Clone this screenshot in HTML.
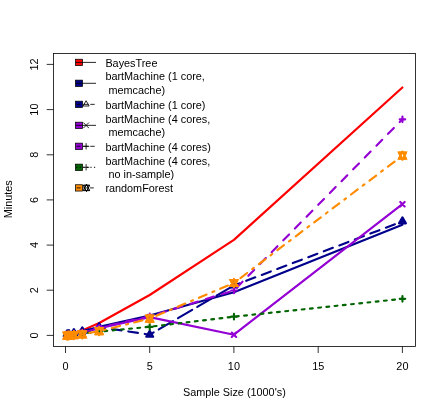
<!DOCTYPE html>
<html><head><meta charset="utf-8"><title>chart</title>
<style>
html,body{margin:0;padding:0;background:#fff;}
body{width:443px;height:413px;overflow:hidden;}
svg{display:block;will-change:transform;}
text{font-family:"Liberation Sans",sans-serif;font-size:10.85px;fill:#000;}
.t{filter:grayscale(1);opacity:1;}
</style></head><body>
<svg width="443" height="413" viewBox="0 0 443 413">
<rect x="0" y="0" width="443" height="413" fill="#ffffff"/>
<defs><clipPath id="c"><rect x="53.5" y="53.5" width="362.0" height="292.9"/></clipPath></defs>
<g clip-path="url(#c)">
<polyline points="67.1,334.7 68.8,334.3 73.9,332.9 82.3,330.4 99.2,323.0 149.7,295.0 233.9,239.9 402.4,87.5" fill="none" stroke="#ff0000" stroke-width="2.15" stroke-linecap="round" stroke-linejoin="round"/>
<polyline points="67.1,334.7 68.8,334.5 73.9,333.6 82.3,331.6 99.2,326.8 149.7,315.5 233.9,292.3 402.4,224.8" fill="none" stroke="#00008b" stroke-width="2.15" stroke-linecap="round" stroke-linejoin="round"/>
<polyline points="67.1,334.3 68.8,334.0 73.9,333.1 82.3,331.3 99.2,327.0 149.7,334.7" fill="none" stroke="#00008b" stroke-width="2.15" stroke-linecap="round" stroke-linejoin="round" stroke-dasharray="9.7 6.9" stroke-dashoffset="4.0"/>
<polyline points="149.7,334.7 233.9,285.5" fill="none" stroke="#00008b" stroke-width="2.15" stroke-linecap="round" stroke-linejoin="round" stroke-dasharray="16.4 5.9" stroke-dashoffset="11.8"/>
<polyline points="233.9,285.5 402.4,221.4" fill="none" stroke="#00008b" stroke-width="2.15" stroke-linecap="round" stroke-linejoin="round" stroke-dasharray="9.7 6.9" stroke-dashoffset="3.4"/>
<path d="M67.14 330.27L70.60 336.27L63.67 336.27Z" fill="#00008b" stroke="#00008b" stroke-width="2.15" stroke-linejoin="round"/>
<path d="M68.82 330.05L72.28 336.05L65.36 336.05Z" fill="#00008b" stroke="#00008b" stroke-width="2.15" stroke-linejoin="round"/>
<path d="M73.88 329.14L77.34 335.14L70.41 335.14Z" fill="#00008b" stroke="#00008b" stroke-width="2.15" stroke-linejoin="round"/>
<path d="M82.30 327.34L85.76 333.34L78.84 333.34Z" fill="#00008b" stroke="#00008b" stroke-width="2.15" stroke-linejoin="round"/>
<path d="M99.15 323.05L102.61 329.05L95.69 329.05Z" fill="#00008b" stroke="#00008b" stroke-width="2.15" stroke-linejoin="round"/>
<path d="M149.70 330.72L153.16 336.72L146.24 336.72Z" fill="#00008b" stroke="#00008b" stroke-width="2.15" stroke-linejoin="round"/>
<path d="M233.95 281.50L237.41 287.50L230.49 287.50Z" fill="#00008b" stroke="#00008b" stroke-width="2.15" stroke-linejoin="round"/>
<path d="M402.45 217.37L405.91 223.37L398.99 223.37Z" fill="#00008b" stroke="#00008b" stroke-width="2.15" stroke-linejoin="round"/>
<polyline points="67.1,334.9 68.8,334.7 73.9,334.0 82.3,332.7 99.2,328.2 149.7,317.1 233.9,334.7 402.4,204.2" fill="none" stroke="#9400d3" stroke-width="2.15" stroke-linecap="round" stroke-linejoin="round"/>
<path d="M64.94 332.75L69.34 337.15M64.94 337.15L69.34 332.75" stroke="#9400d3" stroke-width="2.15" stroke-linecap="round" fill="none"/>
<path d="M66.62 332.52L71.02 336.92M66.62 336.92L71.02 332.52" stroke="#9400d3" stroke-width="2.15" stroke-linecap="round" fill="none"/>
<path d="M71.67 331.85L76.08 336.25M71.67 336.25L76.08 331.85" stroke="#9400d3" stroke-width="2.15" stroke-linecap="round" fill="none"/>
<path d="M80.10 330.49L84.50 334.89M80.10 334.89L84.50 330.49" stroke="#9400d3" stroke-width="2.15" stroke-linecap="round" fill="none"/>
<path d="M96.95 325.97L101.35 330.37M96.95 330.37L101.35 325.97" stroke="#9400d3" stroke-width="2.15" stroke-linecap="round" fill="none"/>
<path d="M147.50 314.91L151.90 319.31M147.50 319.31L151.90 314.91" stroke="#9400d3" stroke-width="2.15" stroke-linecap="round" fill="none"/>
<path d="M231.75 332.52L236.15 336.92M231.75 336.92L236.15 332.52" stroke="#9400d3" stroke-width="2.15" stroke-linecap="round" fill="none"/>
<path d="M400.25 202.01L404.65 206.41M400.25 206.41L404.65 202.01" stroke="#9400d3" stroke-width="2.15" stroke-linecap="round" fill="none"/>
<polyline points="67.1,334.7 68.8,334.5 73.9,333.8 82.3,332.5 99.2,327.7 149.7,316.4 233.9,290.5 402.4,119.3" fill="none" stroke="#9400d3" stroke-width="2.15" stroke-linecap="round" stroke-linejoin="round" stroke-dasharray="8.3 8.3" stroke-dashoffset="5.85"/>
<path d="M64.39 334.72H69.89M67.14 331.97V337.47" stroke="#9400d3" stroke-width="2.15" stroke-linecap="round" fill="none"/>
<path d="M66.07 334.50H71.57M68.82 331.75V337.25" stroke="#9400d3" stroke-width="2.15" stroke-linecap="round" fill="none"/>
<path d="M71.12 333.82H76.62M73.88 331.07V336.57" stroke="#9400d3" stroke-width="2.15" stroke-linecap="round" fill="none"/>
<path d="M79.55 332.46H85.05M82.30 329.71V335.21" stroke="#9400d3" stroke-width="2.15" stroke-linecap="round" fill="none"/>
<path d="M96.40 327.72H101.90M99.15 324.97V330.47" stroke="#9400d3" stroke-width="2.15" stroke-linecap="round" fill="none"/>
<path d="M146.95 316.43H152.45M149.70 313.68V319.18" stroke="#9400d3" stroke-width="2.15" stroke-linecap="round" fill="none"/>
<path d="M231.20 290.47H236.70M233.95 287.72V293.22" stroke="#9400d3" stroke-width="2.15" stroke-linecap="round" fill="none"/>
<path d="M399.70 119.31H405.20M402.45 116.56V122.06" stroke="#9400d3" stroke-width="2.15" stroke-linecap="round" fill="none"/>
<polyline points="67.1,334.9 68.8,334.9 73.9,334.5 82.3,333.6 99.2,331.6 149.7,326.8 233.9,316.7 402.4,298.8" fill="none" stroke="#006400" stroke-width="2.15" stroke-linecap="round" stroke-linejoin="round" stroke-dasharray="2.8 5.47" stroke-dashoffset="3.8"/>
<path d="M64.39 334.95H69.89M67.14 332.20V337.70" stroke="#006400" stroke-width="2.15" stroke-linecap="round" fill="none"/>
<path d="M66.07 334.95H71.57M68.82 332.20V337.70" stroke="#006400" stroke-width="2.15" stroke-linecap="round" fill="none"/>
<path d="M71.12 334.50H76.62M73.88 331.75V337.25" stroke="#006400" stroke-width="2.15" stroke-linecap="round" fill="none"/>
<path d="M79.55 333.59H85.05M82.30 330.84V336.34" stroke="#006400" stroke-width="2.15" stroke-linecap="round" fill="none"/>
<path d="M96.40 331.56H101.90M99.15 328.81V334.31" stroke="#006400" stroke-width="2.15" stroke-linecap="round" fill="none"/>
<path d="M146.95 326.82H152.45M149.70 324.07V329.57" stroke="#006400" stroke-width="2.15" stroke-linecap="round" fill="none"/>
<path d="M231.20 316.66H236.70M233.95 313.91V319.41" stroke="#006400" stroke-width="2.15" stroke-linecap="round" fill="none"/>
<path d="M399.70 298.82H405.20M402.45 296.07V301.57" stroke="#006400" stroke-width="2.15" stroke-linecap="round" fill="none"/>
<polyline points="67.1,335.6 68.8,335.4 73.9,335.1 82.3,334.4 99.2,331.1 149.7,318.6 233.9,283.0 402.4,155.7" fill="none" stroke="#ff8c00" stroke-width="2.15" stroke-linecap="round" stroke-linejoin="round" stroke-dasharray="2.1 6.3 8.4 6.3" stroke-dashoffset="9.1"/>
<path d="M67.14 331.43L70.77 338.78L63.50 338.78ZM67.14 339.83L70.77 332.48L63.50 332.48Z" fill="none" stroke="#ff8c00" stroke-width="1.9" stroke-linejoin="round"/><path d="M67.14 331.43L70.77 338.78L63.50 338.78ZM67.14 339.83L70.77 332.48L63.50 332.48Z" fill="none" stroke="#ff8c00" stroke-width="1.9" stroke-linejoin="miter" stroke-miterlimit="2"/>
<path d="M68.82 331.20L72.46 338.55L65.18 338.55ZM68.82 339.60L72.46 332.25L65.18 332.25Z" fill="none" stroke="#ff8c00" stroke-width="1.9" stroke-linejoin="round"/><path d="M68.82 331.20L72.46 338.55L65.18 338.55ZM68.82 339.60L72.46 332.25L65.18 332.25Z" fill="none" stroke="#ff8c00" stroke-width="1.9" stroke-linejoin="miter" stroke-miterlimit="2"/>
<path d="M73.88 330.86L77.51 338.21L70.24 338.21ZM73.88 339.26L77.51 331.91L70.24 331.91Z" fill="none" stroke="#ff8c00" stroke-width="1.9" stroke-linejoin="round"/><path d="M73.88 330.86L77.51 338.21L70.24 338.21ZM73.88 339.26L77.51 331.91L70.24 331.91Z" fill="none" stroke="#ff8c00" stroke-width="1.9" stroke-linejoin="miter" stroke-miterlimit="2"/>
<path d="M82.30 330.18L85.94 337.53L78.66 337.53ZM82.30 338.58L85.94 331.23L78.66 331.23Z" fill="none" stroke="#ff8c00" stroke-width="1.9" stroke-linejoin="round"/><path d="M82.30 330.18L85.94 337.53L78.66 337.53ZM82.30 338.58L85.94 331.23L78.66 331.23Z" fill="none" stroke="#ff8c00" stroke-width="1.9" stroke-linejoin="miter" stroke-miterlimit="2"/>
<path d="M99.15 326.91L102.79 334.26L95.51 334.26ZM99.15 335.31L102.79 327.96L95.51 327.96Z" fill="none" stroke="#ff8c00" stroke-width="1.9" stroke-linejoin="round"/><path d="M99.15 326.91L102.79 334.26L95.51 334.26ZM99.15 335.31L102.79 327.96L95.51 327.96Z" fill="none" stroke="#ff8c00" stroke-width="1.9" stroke-linejoin="miter" stroke-miterlimit="2"/>
<path d="M149.70 314.38L153.34 321.73L146.06 321.73ZM149.70 322.78L153.34 315.43L146.06 315.43Z" fill="none" stroke="#ff8c00" stroke-width="1.9" stroke-linejoin="round"/><path d="M149.70 314.38L153.34 321.73L146.06 321.73ZM149.70 322.78L153.34 315.43L146.06 315.43Z" fill="none" stroke="#ff8c00" stroke-width="1.9" stroke-linejoin="miter" stroke-miterlimit="2"/>
<path d="M233.95 278.81L237.59 286.16L230.31 286.16ZM233.95 287.21L237.59 279.86L230.31 279.86Z" fill="none" stroke="#ff8c00" stroke-width="1.9" stroke-linejoin="round"/><path d="M233.95 278.81L237.59 286.16L230.31 286.16ZM233.95 287.21L237.59 279.86L230.31 279.86Z" fill="none" stroke="#ff8c00" stroke-width="1.9" stroke-linejoin="miter" stroke-miterlimit="2"/>
<path d="M402.45 151.46L406.09 158.81L398.81 158.81ZM402.45 159.86L406.09 152.51L398.81 152.51Z" fill="none" stroke="#ff8c00" stroke-width="1.9" stroke-linejoin="round"/><path d="M402.45 151.46L406.09 158.81L398.81 158.81ZM402.45 159.86L406.09 152.51L398.81 152.51Z" fill="none" stroke="#ff8c00" stroke-width="1.9" stroke-linejoin="miter" stroke-miterlimit="2"/>
</g>
<rect x="53.5" y="53.5" width="362.0" height="292.9" fill="none" stroke="#000" stroke-width="0.8"/>
<path d="M65.5 346.4V353.0M149.7 346.4V353.0M233.9 346.4V353.0M318.2 346.4V353.0M402.4 346.4V353.0M53.5 335.4H46.7M53.5 290.2H46.7M53.5 245.1H46.7M53.5 199.9H46.7M53.5 154.8H46.7M53.5 109.6H46.7M53.5 64.4H46.7" stroke="#000" stroke-width="0.8" fill="none"/>
<rect x="75.5" y="59.25" width="7" height="6.3" fill="#ff0000" stroke="#000" stroke-width="0.75"/>
<path d="M75.5 62.40H96" stroke="#000" stroke-width="0.85" fill="none"/>
<rect x="75.5" y="80.15" width="7" height="6.3" fill="#00008b" stroke="#000" stroke-width="0.75"/>
<path d="M75.5 83.30H96" stroke="#000" stroke-width="0.85" fill="none"/>
<rect x="75.5" y="101.20" width="7" height="6.3" fill="#00008b" stroke="#000" stroke-width="0.75"/>
<path d="M76.6 104.35H80.5M83.2 104.35H88.6M90.3 104.35H94.7" stroke="#000" stroke-width="0.85" fill="none"/>
<path d="M86.10 100.73L89.15 106.01L83.05 106.01Z" fill="none" stroke="#000" stroke-width="0.85" stroke-linejoin="round"/>
<rect x="75.5" y="122.20" width="7" height="6.3" fill="#9400d3" stroke="#000" stroke-width="0.75"/>
<path d="M75.5 125.35H96" stroke="#000" stroke-width="0.85" fill="none"/>
<path d="M83.57 122.82L88.63 127.88M83.57 127.88L88.63 122.82" stroke="#000" stroke-width="0.85" stroke-linecap="round" fill="none"/>
<rect x="75.5" y="143.15" width="7" height="6.3" fill="#9400d3" stroke="#000" stroke-width="0.75"/>
<path d="M76.6 146.30H80.5M83.2 146.30H88.6M90.3 146.30H94.7" stroke="#000" stroke-width="0.85" fill="none"/>
<path d="M83.35 146.30H88.85M86.10 143.55V149.05" stroke="#000" stroke-width="0.85" stroke-linecap="round" fill="none"/>
<rect x="75.5" y="164.15" width="7" height="6.3" fill="#006400" stroke="#000" stroke-width="0.75"/>
<rect x="76.20" y="166.80" width="1.2" height="1" fill="#000"/>
<rect x="79.75" y="166.80" width="1.2" height="1" fill="#000"/>
<rect x="83.30" y="166.80" width="1.2" height="1" fill="#000"/>
<rect x="86.85" y="166.80" width="1.2" height="1" fill="#000"/>
<rect x="90.40" y="166.80" width="1.2" height="1" fill="#000"/>
<rect x="93.95" y="166.80" width="1.2" height="1" fill="#000"/>
<path d="M83.35 167.30H88.85M86.10 164.55V170.05" stroke="#000" stroke-width="0.85" stroke-linecap="round" fill="none"/>
<rect x="75.5" y="184.75" width="7" height="6.3" fill="#ff8c00" stroke="#000" stroke-width="0.75"/>
<path d="M76.6 187.90H80.6M83 187.90H84M86 187.90H88.6M89.8 187.90H93.8" stroke="#000" stroke-width="0.85" fill="none"/>
<path d="M86.50 184.33L89.59 190.58L83.41 190.58ZM86.50 191.47L89.59 185.22L83.41 185.22Z" fill="none" stroke="#000" stroke-width="0.85" stroke-linejoin="round"/><path d="M86.50 184.33L89.59 190.58L83.41 190.58ZM86.50 191.47L89.59 185.22L83.41 185.22Z" fill="none" stroke="#000" stroke-width="0.85" stroke-linejoin="miter" stroke-miterlimit="2"/>
<g class="t">
<text x="65.5" y="370.2" text-anchor="middle">0</text>
<text x="149.7" y="370.2" text-anchor="middle">5</text>
<text x="233.9" y="370.2" text-anchor="middle">10</text>
<text x="318.2" y="370.2" text-anchor="middle">15</text>
<text x="402.4" y="370.2" text-anchor="middle">20</text>
<text transform="translate(38.2 335.4) rotate(-90)" text-anchor="middle">0</text>
<text transform="translate(38.2 290.2) rotate(-90)" text-anchor="middle">2</text>
<text transform="translate(38.2 245.1) rotate(-90)" text-anchor="middle">4</text>
<text transform="translate(38.2 199.9) rotate(-90)" text-anchor="middle">6</text>
<text transform="translate(38.2 154.8) rotate(-90)" text-anchor="middle">8</text>
<text transform="translate(38.2 109.6) rotate(-90)" text-anchor="middle">10</text>
<text transform="translate(38.2 64.4) rotate(-90)" text-anchor="middle">12</text>
<text x="234.4" y="395.8" text-anchor="middle">Sample Size (1000's)</text>
<text transform="translate(12.2 199.3) rotate(-90)" text-anchor="middle">Minutes</text>
<text x="105.4" y="66.8">BayesTree</text>
<text x="105.4" y="80.4">bartMachine (1 core,</text>
<text x="105.4" y="93.5" xml:space="preserve"> memcache)</text>
<text x="105.4" y="108.8">bartMachine (1 core)</text>
<text x="105.4" y="122.9">bartMachine (4 cores,</text>
<text x="105.4" y="136.0" xml:space="preserve"> memcache)</text>
<text x="105.4" y="150.7">bartMachine (4 cores)</text>
<text x="105.4" y="164.9">bartMachine (4 cores,</text>
<text x="105.4" y="178.0" xml:space="preserve"> no in-sample)</text>
<text x="105.4" y="192.3">randomForest</text>
</g>
</svg></body></html>
